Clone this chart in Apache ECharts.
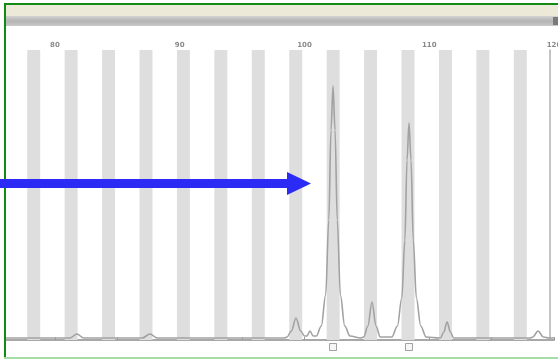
<!DOCTYPE html>
<html>
<head>
<meta charset="utf-8">
<script src="https://cdn.jsdelivr.net/npm/echarts@6/dist/echarts.min.js"></script>
<style>
  html, body { margin: 0; padding: 0; background: #fff; }
  #chart { width: 558px; height: 361px; }
</style>
</head>
<body>
<div id="chart"></div>
<script>
// Size axis (bp) ticks and labels
const sizeLabels = [80, 90, 100, 110, 120];
const sizeTicks = [80, 85, 90, 95, 100, 105, 110, 115, 120];

// Allele bin centres (bp)
const binCentres = [78.3, 81.3, 84.3, 87.3, 90.3, 93.3, 96.3, 99.3, 102.3, 105.3, 108.3, 111.3, 114.3, 117.3];
const binHalfWidth = 0.52;

// Signal trace: [size (bp), intensity]
const tracePoints = [
  [76, 2], [79.5, 2],
  [81.2, 2], [81.77, 6], [82.3, 2],
  [85, 2],
  [87.0, 2], [87.62, 6], [88.2, 2],
  [93, 2], [98.4, 2],
  [98.6, 3], [98.95, 9], [99.32, 22], [99.7, 9], [100.0, 4],
  [100.2, 4], [100.44, 9], [100.7, 4],
  [100.95, 4], [101.35, 14], [101.7, 45], [101.95, 120], [102.13, 210], [102.29, 254],
  [102.45, 210], [102.63, 120], [102.88, 45], [103.23, 14], [103.65, 4],
  [104.5, 2],
  [104.75, 3], [105.08, 14], [105.41, 38], [105.74, 14], [106.07, 3],
  [107.0, 3], [107.45, 14], [107.8, 42], [108.05, 100], [108.22, 180], [108.38, 217],
  [108.54, 180], [108.72, 100], [108.97, 42], [109.32, 14], [109.75, 3],
  [110.8, 2],
  [110.9, 2], [111.17, 8], [111.43, 18], [111.7, 8], [111.96, 2],
  [118.1, 2],
  [118.3, 3], [118.72, 9], [119.15, 3],
  [119.6, 2], [120, 2]
];

// Called alleles (bp), marked below the baseline
const calledAlleles = [102.29, 108.38];
const markerOffset = -7;

const chart = echarts.init(document.getElementById('chart'), null, { renderer: 'canvas' });

const option = {
  animation: false,
  backgroundColor: '#ffffff',
  grid: { left: 5, right: 4, top: 50, bottom: 21, containLabel: false, outerBoundsMode: 'none' },
  xAxis: [
    {
      type: 'value',
      position: 'top',
      min: 76,
      max: 120,
      splitLine: { show: false },
      axisLine: { show: true, lineStyle: { color: '#c4c4c4', width: 1.5 } },
      axisTick: {
        show: true, inside: false, length: 3,
        customValues: sizeTicks,
        lineStyle: { color: '#9a9a9a', width: 1 }
      },
      axisLabel: {
        show: true, margin: 1,
        customValues: sizeLabels,
        fontSize: 7, fontFamily: 'DejaVu Sans', fontWeight: 'bold',
        color: '#8a8a8a'
      }
    },
    {
      type: 'value',
      position: 'bottom',
      min: 76,
      max: 120,
      splitLine: { show: false },
      axisLine: { show: true, lineStyle: { color: '#a8a8a8', width: 2 } },
      axisTick: { show: false },
      axisLabel: { show: false }
    }
  ],
  yAxis: [
    {
      type: 'value',
      min: 0,
      max: 290,
      show: false
    },
    {
      type: 'value',
      position: 'right',
      offset: -4,
      min: 0,
      max: 290,
      splitLine: { show: false },
      axisLine: { show: true, lineStyle: { color: '#b0b0b0', width: 1.5 } },
      axisTick: { show: false },
      axisLabel: { show: false }
    }
  ],
  series: [
    {
      type: 'line',
      name: 'trace',
      xAxisIndex: 0,
      yAxisIndex: 0,
      data: tracePoints,
      showSymbol: false,
      smooth: 0.35,
      smoothMonotone: 'x',
      lineStyle: { color: '#a2a2a2', width: 1.6 },
      z: 3,
      markArea: {
        silent: true,
        itemStyle: { color: '#dedede' },
        data: binCentres.map(c => [{ xAxis: c - binHalfWidth }, { xAxis: c + binHalfWidth }])
      }
    },
    {
      type: 'scatter',
      name: 'alleles',
      xAxisIndex: 0,
      yAxisIndex: 0,
      clip: false,
      data: calledAlleles.map(x => [x, markerOffset]),
      symbol: 'rect',
      symbolSize: 7,
      itemStyle: { color: '#f4f4f4', borderColor: '#8c8c8c', borderWidth: 1 },
      z: 4
    }
  ],
  graphic: [
    // window frame: title band and scroll bar
    { type: 'rect', shape: { x: 5, y: 5, width: 553, height: 11 }, style: { fill: '#ece9d8' }, z: 10 },
    {
      type: 'rect', shape: { x: 5, y: 16, width: 553, height: 10 },
      style: {
        fill: new echarts.graphic.LinearGradient(0, 0, 0, 1, [
          { offset: 0, color: '#d2d2d2' },
          { offset: 0.5, color: '#b4b4b4' },
          { offset: 1, color: '#c8c8c8' }
        ])
      }, z: 10
    },
    { type: 'rect', shape: { x: 553, y: 17, width: 5, height: 8 }, style: { fill: '#7a7a7a' }, z: 11 },
    { type: 'rect', shape: { x: 4, y: 3, width: 554, height: 2 }, style: { fill: '#138a13' }, z: 12 },
    { type: 'rect', shape: { x: 4, y: 3, width: 2, height: 356 }, style: { fill: '#138a13' }, z: 12 },
    { type: 'rect', shape: { x: 4, y: 357, width: 554, height: 2 }, style: { fill: '#a6dca6' }, z: 12 },
    // pointer arrow
    {
      type: 'polygon',
      shape: {
        points: [[0, 179], [287, 179], [287, 172], [311, 183.5], [287, 195], [287, 188], [0, 188]]
      },
      style: { fill: '#2b2bf5' },
      z: 20
    }
  ]
};

chart.setOption(option);
</script>
</body>
</html>
